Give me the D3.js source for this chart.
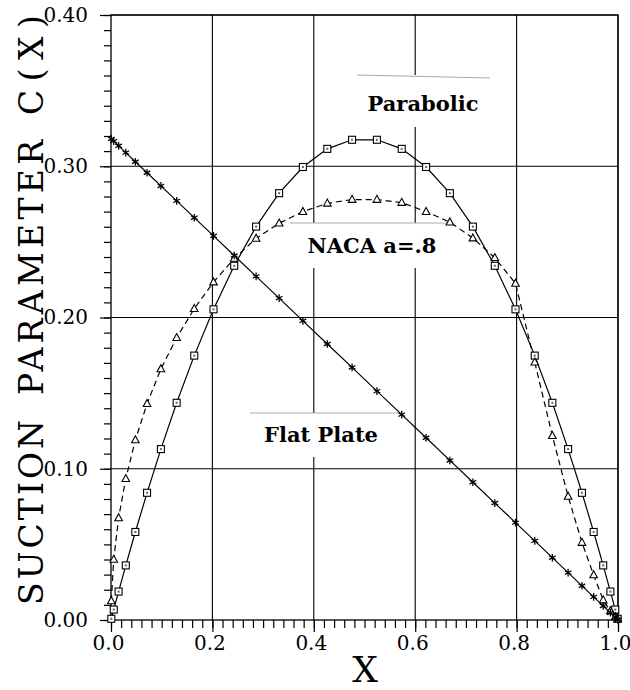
<!DOCTYPE html>
<html>
<head>
<meta charset="utf-8">
<script src="https://cdn.jsdelivr.net/npm/d3@7/dist/d3.min.js"></script>
<style>
  html, body { margin: 0; padding: 0; background: #fff; }
  svg { display: block; }
</style>
</head>
<body>
<svg id="chart" width="630" height="690" font-family="DejaVu Serif, serif"></svg>
<script>
// Chordwise stations X (cosine-spaced collocation points)
const xStations = [
  0.0006, 0.0054, 0.0150, 0.0292, 0.0480, 0.0711, 0.0984, 0.1295,
  0.1642, 0.2022, 0.2430, 0.2862, 0.3316, 0.3785, 0.4266, 0.4755,
  0.5245, 0.5734, 0.6215, 0.6684, 0.7138, 0.7570, 0.7978, 0.8358,
  0.8705, 0.9016, 0.9289, 0.9520, 0.9708, 0.9850, 0.9946, 0.9994
];

// Suction parameter C(X) for each camber line
const parabolic = [
  0.0008, 0.0069, 0.0188, 0.0361, 0.0582, 0.0841, 0.1130, 0.1436,
  0.1748, 0.2054, 0.2342, 0.2601, 0.2822, 0.2995, 0.3115, 0.3175,
  0.3175, 0.3115, 0.2995, 0.2822, 0.2601, 0.2342, 0.2054, 0.1748,
  0.1436, 0.1130, 0.0841, 0.0582, 0.0361, 0.0188, 0.0069, 0.0008
];
const naca08 = [
  0.0126, 0.0400, 0.0675, 0.0934, 0.1190, 0.1430, 0.1660, 0.1866,
  0.2058, 0.2234, 0.2390, 0.2523, 0.2623, 0.2700, 0.2755, 0.2780,
  0.2780, 0.2760, 0.2700, 0.2630, 0.2525, 0.2395, 0.2225, 0.1704,
  0.1219, 0.0817, 0.0512, 0.0298, 0.0132, 0.0060, 0.0020, 0.0005
];
const flatPlate = [
  0.3181, 0.3166, 0.3135, 0.3090, 0.3030, 0.2957, 0.2870, 0.2771,
  0.2660, 0.2540, 0.2410, 0.2272, 0.2128, 0.1978, 0.1825, 0.1670,
  0.1513, 0.1358, 0.1205, 0.1055, 0.0911, 0.0773, 0.0644, 0.0523,
  0.0412, 0.0313, 0.0226, 0.0153, 0.0093, 0.0048, 0.0017, 0.0002
];

// Axis ticks and labels
const xMajorTicks = [0, 0.2, 0.4, 0.6, 0.8, 1.0];
const xTickLabels = ["0.0", "0.2", "0.4", "0.6", "0.8", "1.0"];
const yMajorTicks = [0, 0.1, 0.2, 0.3, 0.4];
const yTickLabels = ["0.00", "0.10", "0.20", "0.30", "0.40"];
const xMinorTicks = d3.range(0, 51).map(i => i / 50);
const yMinorTicks = d3.range(0, 41).map(i => i / 100);

// Curve labels
const curveLabels = ["Parabolic", "NACA a=.8", "Flat Plate"];
const yTitleParts = ["SUCTION", "PARAMETER", "C(X)"];
const xTitle = "X";

const SERIF = "DejaVu Serif, serif";
const svg = d3.select("#chart");
const plotL = 111, plotR = 618, plotT = 15, plotB = 620;
const x = d3.scaleLinear().domain([0, 1]).range([plotL, plotR]);
const y = d3.scaleLinear().domain([0, 0.4]).range([plotB, plotT]);

// Grid lines
const grid = svg.append("g").attr("stroke", "#000").attr("stroke-width", 1.1);
grid.selectAll("line.gx").data(xMajorTicks.slice(1)).join("line")
  .attr("x1", d => x(d)).attr("x2", d => x(d))
  .attr("y1", y(0)).attr("y2", y(0.4));
grid.selectAll("line.gy").data(yMajorTicks.slice(1)).join("line")
  .attr("x1", x(0)).attr("x2", x(1))
  .attr("y1", d => y(d)).attr("y2", d => y(d));

// White label boxes with a faint top rule
const boxes = [
  { x0: 357, x1: 490, y0: 75, y1: 127, ty: 78 },
  { x0: 290, x1: 447, y0: 223, y1: 268, ty: 223 },
  { x0: 250, x1: 400, y0: 413, y1: 457, ty: 413 }
];
const boxG = svg.append("g");
boxG.selectAll("rect").data(boxes).join("rect")
  .attr("x", d => d.x0).attr("y", d => d.y0)
  .attr("width", d => d.x1 - d.x0).attr("height", d => d.y1 - d.y0)
  .attr("fill", "#fff");
boxG.selectAll("line").data(boxes).join("line")
  .attr("x1", d => d.x0).attr("x2", d => d.x1)
  .attr("y1", d => d.y0).attr("y2", d => d.ty)
  .attr("stroke", "#aaa").attr("stroke-width", 1);

// Axes: minor ticks, then major ticks with labels
const yMinor = d3.axisLeft(y).tickValues(yMinorTicks).tickSize(7).tickFormat("");
const yMajor = d3.axisLeft(y).tickValues(yMajorTicks).tickSize(11).tickPadding(12)
  .tickFormat((d, i) => yTickLabels[i]);
const xMinor = d3.axisBottom(x).tickValues(xMinorTicks).tickSize(8).tickFormat("");
const xMajor = d3.axisBottom(x).tickValues(xMajorTicks).tickSize(12).tickPadding(4)
  .tickFormat((d, i) => xTickLabels[i]);

function styleAxis(g) {
  g.attr("font-family", SERIF).attr("font-size", 20);
  g.select(".domain").remove();
  g.selectAll("line").attr("stroke", "#000").attr("stroke-width", 1.2);
  g.selectAll("text").attr("fill", "#000");
}
svg.append("g").attr("transform", `translate(${plotL},0)`).call(yMinor).call(styleAxis);
svg.append("g").attr("transform", `translate(${plotL},0)`).call(yMajor).call(styleAxis);
svg.append("g").attr("transform", `translate(0,${plotB})`).call(xMinor).call(styleAxis);
svg.append("g").attr("transform", `translate(0,${plotB})`).call(xMajor).call(styleAxis)
  .selectAll("text").attr("dx", -3);

// Frame
svg.append("rect").attr("x", plotL).attr("y", plotT)
  .attr("width", plotR - plotL).attr("height", plotB - plotT)
  .attr("fill", "none").attr("stroke", "#000").attr("stroke-width", 1.3);

// Curves
const seriesFor = vals => xStations.map((xv, i) => [xv, vals[i]]);
const line = d3.line().x(d => x(d[0])).y(d => y(d[1]));

const curves = svg.append("g").attr("fill", "none").attr("stroke", "#000").attr("stroke-width", 1.2);
curves.append("path").attr("d", line(seriesFor(flatPlate)));
curves.append("path").attr("d", line(seriesFor(parabolic)));
curves.append("path").attr("d", line(seriesFor(naca08))).attr("stroke-dasharray", "6,4");

// Markers
const mk = svg.append("g").attr("stroke", "#000").attr("stroke-width", 1.1);

// squares with a centre dot (parabolic)
const sq = mk.selectAll("g.sq").data(seriesFor(parabolic)).join("g")
  .attr("transform", d => `translate(${x(d[0])},${y(d[1])})`);
sq.append("rect").attr("x", -3.5).attr("y", -3.5).attr("width", 7).attr("height", 7).attr("fill", "#fff");
sq.append("rect").attr("x", -1).attr("y", -1).attr("width", 2).attr("height", 2).attr("fill", "#666").attr("stroke", "none");

// open triangles (NACA a=.8)
mk.selectAll("path.tri").data(seriesFor(naca08)).join("path")
  .attr("d", "M0,-4.2L3.8,2.8L-3.8,2.8Z").attr("fill", "#fff")
  .attr("transform", d => `translate(${x(d[0])},${y(d[1])})`);

// asterisks (flat plate)
const ast = "M0,-3.8L0,3.8M-3.3,-1.9L3.3,1.9M-3.3,1.9L3.3,-1.9";
mk.selectAll("path.ast").data(seriesFor(flatPlate)).join("path")
  .attr("d", ast).attr("fill", "none").attr("stroke-width", 1.3)
  .attr("transform", d => `translate(${x(d[0])},${y(d[1])})`);

// Curve labels
const labelPos = [[423, 111], [372, 253], [321, 442]];
svg.append("g").attr("font-family", SERIF).attr("font-weight", "bold").attr("font-size", 21)
  .selectAll("text").data(curveLabels).join("text")
  .attr("x", (d, i) => labelPos[i][0]).attr("y", (d, i) => labelPos[i][1])
  .attr("text-anchor", "middle")
  .text(d => d);

// Axis titles
svg.append("text").attr("x", 365).attr("y", 682).attr("text-anchor", "middle")
  .attr("font-family", SERIF).attr("font-size", 36).text(xTitle);

const titleSpans = [[420, 605], [140, 395], [15, 115]]; // vertical extents (top, bottom)
svg.append("g").attr("font-family", SERIF).attr("font-size", 33)
  .selectAll("text").data(yTitleParts).join("text")
  .attr("transform", (d, i) => `translate(43,${titleSpans[i][1]}) rotate(-90)`)
  .attr("textLength", (d, i) => titleSpans[i][1] - titleSpans[i][0])
  .attr("lengthAdjust", "spacing")
  .text(d => d);
</script>
</body>
</html>
